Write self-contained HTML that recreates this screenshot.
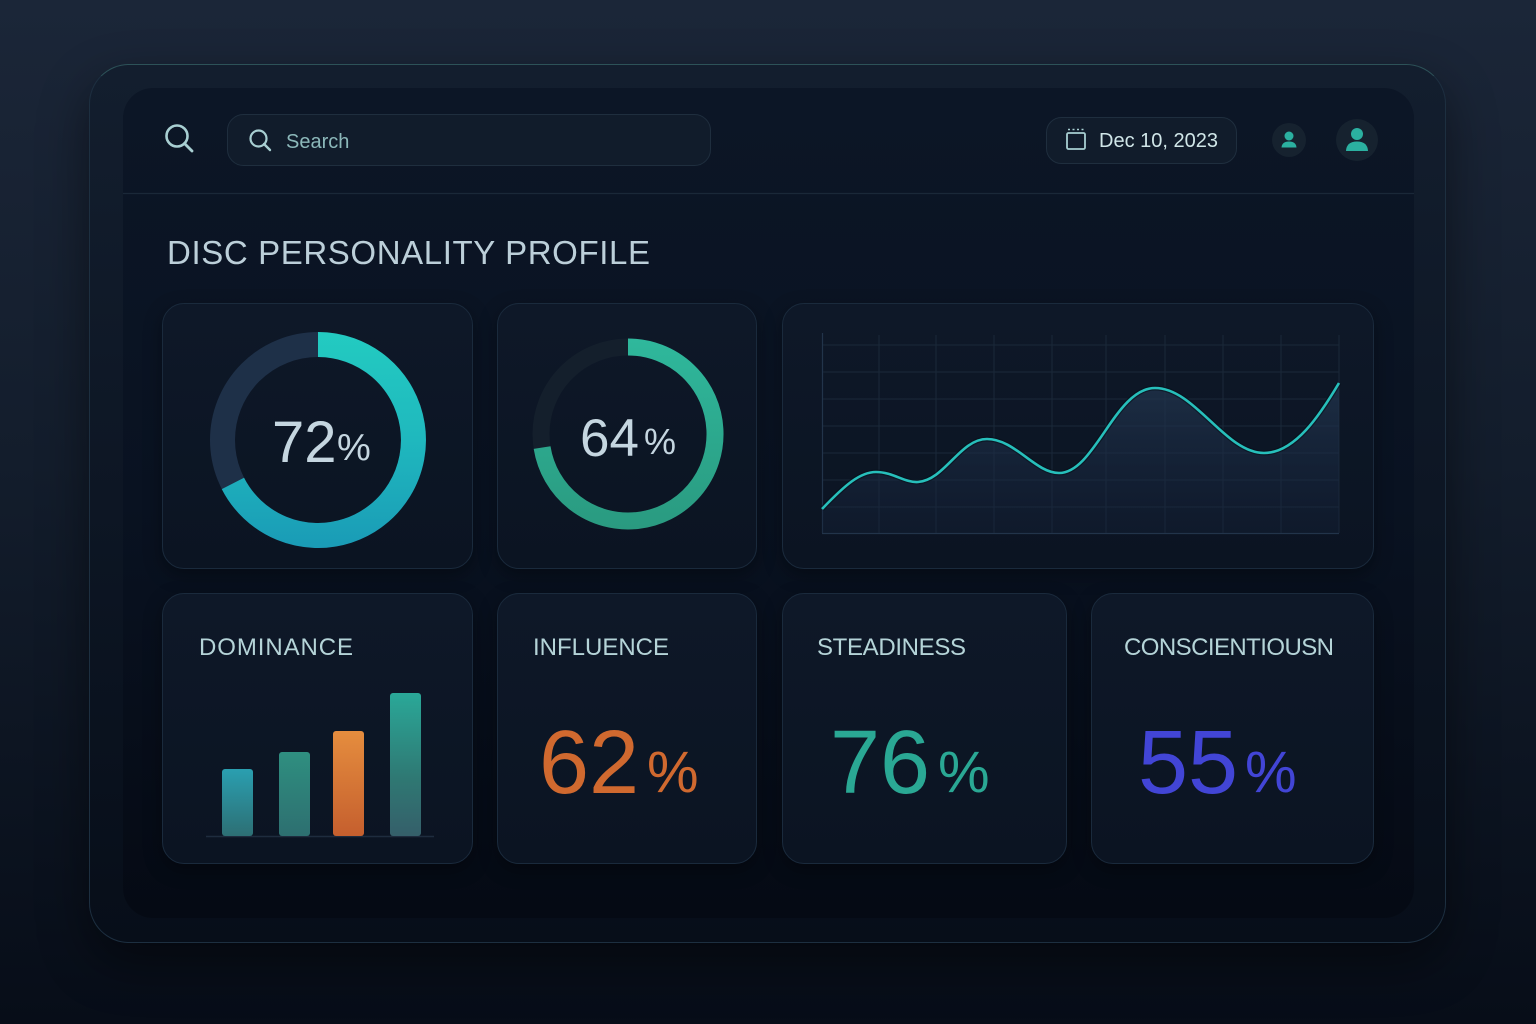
<!DOCTYPE html>
<html><head><meta charset="utf-8">
<style>
html,body{margin:0;padding:0;width:1536px;height:1024px;overflow:hidden;}
body{background:linear-gradient(180deg,#1b2638 0%,#131d2c 45%,#070d18 100%);font-family:"Liberation Sans",sans-serif;position:relative;}
.frame{position:absolute;left:89px;top:64px;width:1357px;height:879px;border-radius:40px;background:linear-gradient(180deg,#131e2e 0%,#0d1624 50%,#070e19 100%);border:1px solid #1d2f40;border-top-color:#2d5258;box-sizing:border-box;box-shadow:0 20px 50px rgba(0,0,0,0.45);}
.panel{position:absolute;left:123px;top:88px;width:1291px;height:830px;border-radius:30px;background:linear-gradient(180deg,#0c1626 0%,#091221 50%,#050a14 100%);}
.card{position:absolute;border-radius:22px;background:linear-gradient(180deg,#0e1828 0%,#0b1422 100%);border:1px solid #1a2a3c;box-sizing:border-box;box-shadow:0 6px 18px rgba(0,0,0,0.35);}
svg{position:absolute;left:0;top:0;}
</style></head><body>
<div class="frame"></div>
<div class="panel"></div>
<div class="card" style="left:162px;top:303px;width:311px;height:266px;"></div>
<div class="card" style="left:497px;top:303px;width:260px;height:266px;"></div>
<div class="card" style="left:782px;top:303px;width:592px;height:266px;"></div>
<div class="card" style="left:162px;top:593px;width:311px;height:271px;"></div>
<div class="card" style="left:497px;top:593px;width:260px;height:271px;"></div>
<div class="card" style="left:782px;top:593px;width:285px;height:271px;"></div>
<div class="card" style="left:1091px;top:593px;width:283px;height:271px;"></div>

<svg width="1536" height="1024" viewBox="0 0 1536 1024" xmlns="http://www.w3.org/2000/svg">
<defs>
<linearGradient id="d1" x1="0" y1="332" x2="0" y2="548" gradientUnits="userSpaceOnUse">
<stop offset="0" stop-color="#23cbc1"/><stop offset="0.5" stop-color="#1fb8be"/><stop offset="1" stop-color="#1a9bb6"/></linearGradient>
<linearGradient id="d2" x1="0" y1="339" x2="0" y2="529" gradientUnits="userSpaceOnUse">
<stop offset="0" stop-color="#2fb89c"/><stop offset="1" stop-color="#2a9a80"/></linearGradient>
<linearGradient id="area" x1="0" y1="383" x2="0" y2="533" gradientUnits="userSpaceOnUse">
<stop offset="0" stop-color="#22364f" stop-opacity="0.75"/><stop offset="1" stop-color="#15223a" stop-opacity="0.35"/></linearGradient>
<linearGradient id="b1" x1="0" y1="0" x2="0" y2="1"><stop offset="0" stop-color="#2a9fb0"/><stop offset="1" stop-color="#2d6f74"/></linearGradient>
<linearGradient id="b2" x1="0" y1="0" x2="0" y2="1"><stop offset="0" stop-color="#2f8f80"/><stop offset="1" stop-color="#2d6f70"/></linearGradient>
<linearGradient id="b3" x1="0" y1="0" x2="0" y2="1"><stop offset="0" stop-color="#e58d3e"/><stop offset="1" stop-color="#c55f2e"/></linearGradient>
<linearGradient id="b4" x1="0" y1="0" x2="0" y2="1"><stop offset="0" stop-color="#2aa898"/><stop offset="0.6" stop-color="#2f7873"/><stop offset="1" stop-color="#355f6a"/></linearGradient>
</defs>

<!-- header -->
<line x1="123" y1="193.5" x2="1414" y2="193.5" stroke="#1a2838" stroke-width="1.2"/>
<circle cx="177" cy="136" r="10.5" fill="none" stroke="#a8cfd2" stroke-width="2.6"/>
<line x1="184.5" y1="143.5" x2="192" y2="151" stroke="#a8cfd2" stroke-width="2.8" stroke-linecap="round"/>
<rect x="227.5" y="114.5" width="483" height="51" rx="16" fill="#111c2b" stroke="#1f2e3e"/>
<circle cx="258.5" cy="138.5" r="8" fill="none" stroke="#a8cfd2" stroke-width="2.2"/>
<line x1="264" y1="144" x2="270" y2="150" stroke="#a8cfd2" stroke-width="2.4" stroke-linecap="round"/>
<text x="286" y="148" font-size="20" fill="#8cb8ba" font-family="Liberation Sans, sans-serif">Search</text>

<rect x="1046.5" y="117.5" width="190" height="46" rx="15" fill="#111c2b" stroke="#1f2e3e"/>
<rect x="1067" y="133" width="18" height="16" rx="1.5" fill="none" stroke="#a8cfd2" stroke-width="1.8"/>
<line x1="1068" y1="129.5" x2="1084" y2="129.5" stroke="#a8cfd2" stroke-width="1.6" stroke-dasharray="2 2.5"/>
<text x="1099" y="147" font-size="20" fill="#d0e6e8" font-family="Liberation Sans, sans-serif">Dec 10, 2023</text>

<circle cx="1289" cy="140" r="17" fill="#16222f"/>
<circle cx="1289" cy="136" r="4.5" fill="#2bb0a0"/>
<path d="M1281.5,147.5 Q1282,141.5 1289,141.5 Q1296,141.5 1296.5,147.5 Z" fill="#2bb0a0"/>
<circle cx="1357" cy="140" r="21" fill="#16222f"/>
<circle cx="1357" cy="134" r="6" fill="#2bb0a0"/>
<path d="M1346,151 Q1346.5,141.5 1357,141.5 Q1367.5,141.5 1368,151 Z" fill="#2bb0a0"/>

<text x="167" y="264" font-size="33" fill="#bccfd9" textLength="483" lengthAdjust="spacing" font-family="Liberation Sans, sans-serif">DISC PERSONALITY PROFILE</text>

<!-- donut 1 -->
<circle cx="318" cy="440" r="95.5" fill="none" stroke="#1e3048" stroke-width="25"/>
<path d="M318,344.5 A95.5,95.5 0 1 1 232.9,483.4" fill="none" stroke="url(#d1)" stroke-width="25"/>
<text x="272" y="462" font-size="58" fill="#c5d6e0" font-family="Liberation Sans, sans-serif">72</text>
<text x="337" y="460" font-size="38" fill="#c5d6e0" font-family="Liberation Sans, sans-serif">%</text>

<!-- donut 2 -->
<circle cx="628" cy="434" r="87" fill="none" stroke="#141f2c" stroke-width="17"/>
<path d="M628,347 A87,87 0 1 1 542.1,447.6" fill="none" stroke="url(#d2)" stroke-width="17"/>
<text x="580" y="456" font-size="53" fill="#c5d6e0" font-family="Liberation Sans, sans-serif">64</text>
<text x="644" y="454" font-size="36" fill="#c5d6e0" font-family="Liberation Sans, sans-serif">%</text>

<!-- line chart grid -->
<g stroke="#1a2839" stroke-width="1">
<line x1="822" y1="345" x2="1339" y2="345"/>
<line x1="822" y1="372" x2="1339" y2="372"/>
<line x1="822" y1="399" x2="1339" y2="399"/>
<line x1="822" y1="426" x2="1339" y2="426"/>
<line x1="822" y1="453" x2="1339" y2="453"/>
<line x1="822" y1="480" x2="1339" y2="480"/>
<line x1="822" y1="507" x2="1339" y2="507"/>
<line x1="879" y1="335" x2="879" y2="533"/>
<line x1="936" y1="335" x2="936" y2="533"/>
<line x1="994" y1="335" x2="994" y2="533"/>
<line x1="1052" y1="335" x2="1052" y2="533"/>
<line x1="1106" y1="335" x2="1106" y2="533"/>
<line x1="1165" y1="335" x2="1165" y2="533"/>
<line x1="1223" y1="335" x2="1223" y2="533"/>
<line x1="1281" y1="335" x2="1281" y2="533"/>
<line x1="1339" y1="335" x2="1339" y2="533"/>
</g>
<line x1="822.5" y1="333" x2="822.5" y2="533" stroke="#22344a" stroke-width="1.2"/>
<line x1="822" y1="533.5" x2="1339" y2="533.5" stroke="#22344a" stroke-width="1.2"/>
<path d="M822,509 C845,485 860,472 876,472 C893,472 905,483 918,482 C945,480 960,439 987,439 C1015,439 1035,473 1059,473 C1095,473 1115,388 1155,388 C1195,388 1225,453 1264,453 C1295,453 1320,415 1339,383 L1339,533 L822,533 Z" fill="url(#area)"/>
<path d="M822,509 C845,485 860,472 876,472 C893,472 905,483 918,482 C945,480 960,439 987,439 C1015,439 1035,473 1059,473 C1095,473 1115,388 1155,388 C1195,388 1225,453 1264,453 C1295,453 1320,415 1339,383" fill="none" stroke="#06101a" stroke-width="5" opacity="0.6"/>
<path d="M822,509 C845,485 860,472 876,472 C893,472 905,483 918,482 C945,480 960,439 987,439 C1015,439 1035,473 1059,473 C1095,473 1115,388 1155,388 C1195,388 1225,453 1264,453 C1295,453 1320,415 1339,383" fill="none" stroke="#27bfbb" stroke-width="2.6"/>

<!-- labels -->
<text x="199" y="655" font-size="24" fill="#b5d4d8" textLength="154" lengthAdjust="spacing" font-family="Liberation Sans, sans-serif">DOMINANCE</text>
<text x="533" y="655" font-size="24" fill="#b5d4d8" textLength="136" lengthAdjust="spacing" font-family="Liberation Sans, sans-serif">INFLUENCE</text>
<text x="817" y="655" font-size="24" fill="#b5d4d8" textLength="149" lengthAdjust="spacing" font-family="Liberation Sans, sans-serif">STEADINESS</text>
<text x="1124" y="655" font-size="24" fill="#b5d4d8" textLength="210" lengthAdjust="spacing" font-family="Liberation Sans, sans-serif">CONSCIENTIOUSN</text>

<!-- bars -->
<line x1="206" y1="836.5" x2="434" y2="836.5" stroke="#1e2c3e" stroke-width="1.5"/>
<rect x="222" y="769" width="31" height="67" rx="3" fill="url(#b1)"/>
<rect x="279" y="752" width="31" height="84" rx="3" fill="url(#b2)"/>
<rect x="333" y="731" width="31" height="105" rx="3" fill="url(#b3)"/>
<rect x="390" y="693" width="31" height="143" rx="3" fill="url(#b4)"/>

<!-- big numbers -->
<text x="539" y="793" font-size="90" fill="#d0692f" font-family="Liberation Sans, sans-serif">62</text>
<text x="647" y="792" font-size="58" fill="#d0692f" font-family="Liberation Sans, sans-serif">%</text>
<text x="830" y="793" font-size="90" fill="#2aa894" font-family="Liberation Sans, sans-serif">76</text>
<text x="938" y="792" font-size="58" fill="#2aa894" font-family="Liberation Sans, sans-serif">%</text>
<text x="1138" y="793" font-size="90" fill="#4245d6" font-family="Liberation Sans, sans-serif">55</text>
<text x="1245" y="792" font-size="58" fill="#4245d6" font-family="Liberation Sans, sans-serif">%</text>
</svg>
</body></html>
